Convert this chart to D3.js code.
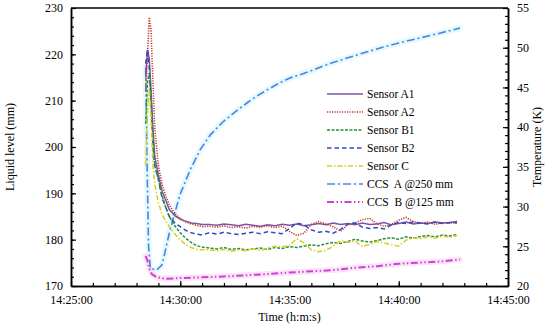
<!DOCTYPE html>
<html>
<head>
<meta charset="utf-8">
<script src="https://cdn.jsdelivr.net/npm/d3@7"></script>
<style>
  body { margin: 0; background: #fff; }
  svg text { font-family: "Liberation Serif", "Times New Roman", serif; fill: #000; white-space: pre; }
</style>
</head>
<body>
<div id="chart"></div>
<script>
// seconds after 14:25:00
const sensorTimes = [205, 210, 215, 220, 225, 230, 240, 250, 260, 270, 285, 300, 315, 330, 345, 360,
  380, 400, 420, 440, 460, 480, 500, 520, 540, 560, 580, 600, 620, 640, 660, 680, 700, 720, 740, 760,
  780, 800, 820, 840, 860, 880, 900, 920, 940, 960, 980, 1000, 1020, 1040, 1060];

// liquid level, mm
const sensorA1 = [215, 221, 219, 212, 204, 198, 194, 190.5, 188.5, 186.5, 185.2, 184.4, 184, 183.6, 183.5, 183.3,
  183.3, 183.1, 183.4, 183.2, 183.0, 183.3, 183.1, 182.9, 183.2, 183.0, 183.3, 183.1, 183.4, 183.0, 183.2, 183.5,
  183.2, 183.6, 183.3, 183.5, 183.2, 183.6, 183.3, 183.4, 183.7, 183.2, 183.5, 183.8, 183.4, 183.6, 183.5, 183.8,
  183.6, 183.7, 183.9];
const sensorA2 = [212, 220, 228, 225, 214, 204, 196, 192, 189.5, 187.5, 185.6, 184.6, 183.8, 183.4, 183.1, 182.8,
  182.9, 182.7, 183.0, 182.6, 182.8, 182.5, 182.9, 182.7, 183.0, 182.6, 182.9, 181.8, 180.9, 181.4, 183.3, 183.9,
  183.4, 182.8, 181.8, 183.2, 183.6, 184.3, 184.6, 183.4, 182.9, 183.3, 184.2, 184.8, 183.9, 183.5, 183.8, 183.3,
  183.7, 183.5, 183.9];
const sensorB1 = [205, 214, 216, 210, 202, 196, 193, 189.5, 187, 185, 183, 181.5, 180.3, 179.4, 178.7, 178.4,
  178.2, 178.0, 178.3, 177.9, 178.1, 177.8, 178.0, 178.2, 177.9, 178.3, 178.1, 178.5, 178.3, 178.6, 178.9, 178.7,
  179.1, 179.4, 179.2, 179.6, 180.1, 179.7, 179.5, 179.8, 180.2, 180.4, 180.1, 180.6, 180.3, 180.7, 180.9, 180.6,
  181.0, 180.8, 181.1];
const sensorB2 = [218, 221, 217, 209, 200, 196, 193, 189, 187, 185, 183.6, 182.8, 182, 181.5, 181.2, 181,
  181.5, 181.2, 181.6, 181.3, 181.1, 181.4, 181.6, 181.3, 181.7, 181.5, 181.3, 182.4, 183.6, 183.2, 182.1, 181.6,
  181.8, 181.4, 182.2, 183.4, 183.6, 182.7, 182.4, 182.6, 182.3, 183.2, 183.7, 183.5, 183.8, 183.6, 183.4, 183.8,
  183.5, 183.7, 183.6];
const sensorC = [196, 208, 212, 206, 196, 192, 188, 185.5, 184, 182.8, 181.2, 180, 178.9, 178.3, 177.9, 177.8,
  177.8, 177.6, 177.9, 177.5, 177.8, 177.6, 178.0, 177.7, 178.2, 178.6, 178.4, 178.8, 180.2, 179.3, 177.8, 177.4,
  177.7, 178.6, 179.8, 179.4, 179.7, 178.5, 179.0, 179.6, 179.3, 178.9, 178.6, 179.9, 180.4, 180.2, 180.6, 180.3,
  180.8, 180.5, 180.9];

// temperature, K
const ccsATimes = [205, 209, 213, 218, 235, 250, 272, 299, 327, 354, 382, 417, 450, 483, 510, 538, 570, 601,
  635, 665, 710, 758, 800, 849, 900, 958, 1010, 1068];
const ccsA = [47.5, 35, 25, 22.2, 22.0, 22.65, 27.05, 31.46, 34.6, 37.1, 39.0, 40.65, 41.9, 43.04, 43.9, 44.68,
  45.5, 46.19, 46.7, 47.2, 48.0, 48.7, 49.3, 49.96, 50.6, 51.22, 51.8, 52.48];
const ccsBTimes = [205, 210, 215, 222, 235, 260, 300, 360, 420, 480, 540, 600, 660, 720, 780, 840, 900, 960, 1020, 1068];
const ccsB = [23.8, 23.2, 22.2, 21.5, 21.1, 20.9, 21.0, 21.1, 21.2, 21.35, 21.5, 21.7, 21.85, 22.0, 22.3, 22.5,
  22.8, 22.95, 23.1, 23.35];

const xTickLabels = ['14:25:00', '14:30:00', '14:35:00', '14:40:00', '14:45:00'];
const leftTicks = [170, 180, 190, 200, 210, 220, 230];
const rightTicks = [20, 25, 30, 35, 40, 45, 50, 55];

const legendNames = ['Sensor A1', 'Sensor A2', 'Sensor B1', 'Sensor B2', 'Sensor C', 'CCS  A @250 mm', 'CCS  B @125 mm'];

const w = 550, h = 329;
const m = {left: 71, right: 42, top: 8, bottom: 43};

const svg = d3.select('#chart').append('svg').attr('width', w).attr('height', h);

const x = d3.scaleLinear().domain([0, 1200]).range([m.left, w - m.right]);
const yL = d3.scaleLinear().domain([170, 230]).range([h - m.bottom, m.top]);
const yR = d3.scaleLinear().domain([20, 55]).range([h - m.bottom, m.top]);

const series = [
  {t: sensorTimes, v: sensorA1, y: yL, color: '#7b56a8', dash: null, width: 1.5},
  {t: sensorTimes, v: sensorA2, y: yL, color: '#c0392b', dash: '1.2,1.3', width: 1.6},
  {t: sensorTimes, v: sensorB1, y: yL, color: '#2e8f36', dash: '3,1.5', width: 1.5},
  {t: sensorTimes, v: sensorB2, y: yL, color: '#3347c4', dash: '4.5,3', width: 1.5},
  {t: sensorTimes, v: sensorC, y: yL, color: '#d4d01c', dash: '5,2,1.5,2', width: 1.5},
  {t: ccsATimes, v: ccsA, y: yR, color: '#4d82e2', dash: '8,3,2,3', width: 1.6, halo: '#e4fafc'},
  {t: ccsBTimes, v: ccsB, y: yR, color: '#d03fd4', dash: '7,2.5,1.5,2.5,1.5,2.5', width: 2, halo: '#fce4f8'}
];

const plot = svg.append('g');

// pale halos first
series.filter(s => s.halo).forEach(s => {
  const line = d3.line().x((d, i) => x(s.t[i])).y(d => s.y(d));
  plot.append('path').datum(s.v)
    .attr('d', line).attr('fill', 'none')
    .attr('stroke', s.halo).attr('stroke-width', 6)
    .attr('stroke-linejoin', 'round').attr('stroke-linecap', 'round');
});

// draw CCS lines under the sensors
[5, 6, 0, 1, 3, 2, 4].forEach(k => {
  const s = series[k];
  const line = d3.line().x((d, i) => x(s.t[i])).y(d => s.y(d));
  plot.append('path').datum(s.v)
    .attr('d', line).attr('fill', 'none')
    .attr('stroke', s.color).attr('stroke-width', s.width)
    .attr('stroke-dasharray', s.dash);
});

// axes
const fmtX = (d, i) => xTickLabels[i];
const xAxis = d3.axisBottom(x).tickValues([0, 300, 600, 900, 1200]).tickFormat(fmtX).tickSizeInner(-5).tickSizeOuter(0).tickPadding(9);
const xMinor = d3.axisBottom(x).tickValues(d3.range(60, 1200, 60)).tickFormat('').tickSizeInner(-3).tickSizeOuter(0);
const lAxis = d3.axisLeft(yL).tickValues(leftTicks).tickSizeInner(-5).tickSizeOuter(0).tickPadding(8);
const lMinor = d3.axisLeft(yL).tickValues(d3.range(172, 230, 2)).tickFormat('').tickSizeInner(-3).tickSizeOuter(0);
const rAxis = d3.axisRight(yR).tickValues(rightTicks).tickSizeInner(-5).tickSizeOuter(0).tickPadding(9);
const rMinor = d3.axisRight(yR).tickValues(d3.range(21, 55, 1)).tickFormat('').tickSizeInner(-3).tickSizeOuter(0);

function styleAxis(g) {
  g.selectAll('path.domain').attr('stroke', '#000').attr('stroke-width', 1.5);
  g.selectAll('.tick line').attr('stroke', '#000').attr('stroke-width', 1.2);
  g.selectAll('.tick text').style('font-family', '"Liberation Serif", serif').style('font-size', '12px').attr('fill', '#000');
}

svg.append('g').attr('transform', `translate(0,${h - m.bottom})`).call(xMinor).call(styleAxis);
svg.append('g').attr('transform', `translate(0,${h - m.bottom})`).call(xAxis).call(styleAxis);
svg.append('g').attr('transform', `translate(${m.left},0)`).call(lMinor).call(styleAxis);
svg.append('g').attr('transform', `translate(${m.left},0)`).call(lAxis).call(styleAxis);
svg.append('g').attr('transform', `translate(${w - m.right},0)`).call(rMinor).call(styleAxis);
svg.append('g').attr('transform', `translate(${w - m.right},0)`).call(rAxis).call(styleAxis);

// top border
svg.append('line')
  .attr('x1', m.left).attr('x2', w - m.right)
  .attr('y1', m.top).attr('y2', m.top)
  .attr('stroke', '#000').attr('stroke-width', 1.5);

// axis titles
svg.append('text')
  .attr('transform', `translate(14,${(m.top + h - m.bottom) / 2}) rotate(-90)`)
  .attr('text-anchor', 'middle').attr('font-size', 12)
  .text('Liquid level (mm)');
svg.append('text')
  .attr('transform', `translate(541,${(m.top + h - m.bottom) / 2}) rotate(-90)`)
  .attr('text-anchor', 'middle').attr('font-size', 12)
  .text('Temperature (K)');
svg.append('text')
  .attr('x', x(600)).attr('y', 321)
  .attr('text-anchor', 'middle').attr('font-size', 12)
  .text('Time (h:m:s)');

// legend
const legend = svg.append('g').attr('transform', 'translate(327,94)');
legendNames.forEach((name, i) => {
  const s = series[i];
  const g = legend.append('g').attr('transform', `translate(0,${i * 18})`);
  g.append('line').attr('x1', 0).attr('x2', 36).attr('y1', 0).attr('y2', 0)
    .attr('stroke', s.color).attr('stroke-width', s.width)
    .attr('stroke-dasharray', s.dash);
  g.append('text').attr('x', 40).attr('y', 4).attr('font-size', 11.5).text(name);
});
</script>
</body>
</html>
